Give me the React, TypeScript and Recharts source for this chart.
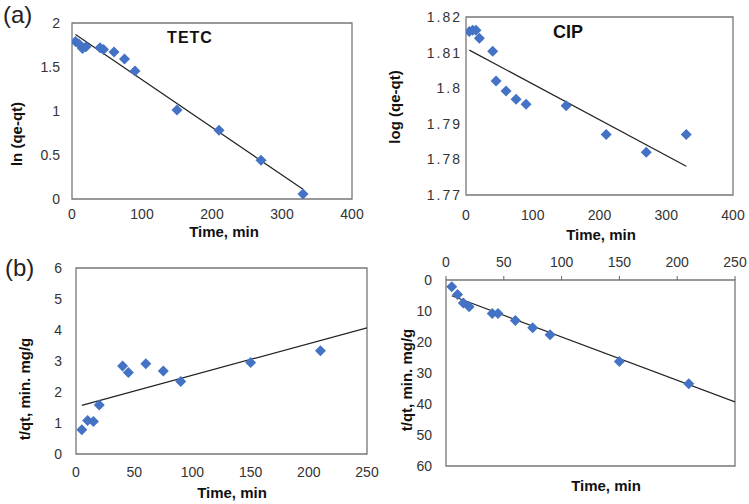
import React from 'react';
import { ScatterChart, Scatter, XAxis, YAxis, ReferenceArea } from 'recharts';

// ---- data ----
const timeA = [5, 10, 15, 20, 40, 45, 60, 75, 90, 150, 210, 270, 330];
const tetcLn = [1.79, 1.76, 1.71, 1.73, 1.72, 1.70, 1.67, 1.59, 1.455, 1.01, 0.78, 0.44, 0.057];
const cipLog = [1.8159, 1.8163, 1.8163, 1.814, 1.8104, 1.802, 1.7992, 1.7969, 1.7955, 1.7951, 1.787, 1.782, 1.787];
const tetcFitT = [5, 330];
const tetcFitV = [1.87, 0.11];
const cipFitT = [5, 330];
const cipFitV = [1.8107, 1.7781];

const timeB = [5, 10, 15, 20, 40, 45, 60, 75, 90, 150, 210];
const tetcTq = [0.78, 1.08, 1.05, 1.58, 2.84, 2.63, 2.91, 2.68, 2.34, 2.95, 3.33];
const cipTq = [2.2, 4.7, 7.4, 8.6, 10.8, 10.8, 13.1, 15.4, 17.7, 26.3, 33.5];
const tetcFitBT = [5, 250];
const tetcFitBV = [1.57, 4.07];
const cipFitBT = [5, 250];
const cipFitBV = [5.1, 39.3];

const xTicksA = [0, 100, 200, 300, 400];
const yTicksTetcA = [0, 0.5, 1, 1.5, 2];
const yTicksCipA = [1.77, 1.78, 1.79, 1.8, 1.81, 1.82];
const xTicksB = [0, 50, 100, 150, 200, 250];
const yTicksTetcB = [0, 1, 2, 3, 4, 5, 6];
const yTicksCipB = [0, 10, 20, 30, 40, 50, 60];

const zip = (ts: number[], vs: number[]) => ts.map((t, i) => ({ t, v: vs[i] }));

const FONT = '"Liberation Sans", Arial, sans-serif';
const W = 749;
const H = 504;

const Diamond = (props: any) => {
  const { cx, cy } = props;
  if (cx == null || cy == null) return <g />;
  const r = 5.5;
  return (
    <polygon
      points={`${cx},${cy - r} ${cx + r},${cy} ${cx},${cy + r} ${cx - r},${cy}`}
      fill="#4472C4"
    />
  );
};

const NoDot = () => <g />;

type PanelProps = {
  plot: { l: number; t: number; r: number; b: number };
  xDomain: [number, number];
  xTicks: number[];
  yDomain: [number, number];
  yTicks: number[];
  pts: { t: number; v: number }[];
  fit: { t: number; v: number }[];
  xTop?: boolean;
  yReversed?: boolean;
  xGap: number;
  yGap: number;
  yFmt?: (v: number) => string;
  yTickExtra?: any;
};

function Panel(p: PanelProps) {
  const axisH = 30;
  const axisW = 40;
  const margin = p.xTop
    ? { top: p.plot.t - axisH, bottom: H - p.plot.b, left: p.plot.l - axisW, right: W - p.plot.r }
    : { top: p.plot.t, bottom: H - p.plot.b - axisH, left: p.plot.l - axisW, right: W - p.plot.r };
  const tickStyle = { fontSize: 14, fill: '#333', fontFamily: FONT };
  return (
    <div style={{ position: 'absolute', left: 0, top: 0 }}>
      <ScatterChart width={W} height={H} margin={margin}>
        <XAxis
          dataKey="t"
          type="number"
          domain={p.xDomain}
          ticks={p.xTicks}
          interval={0}
          orientation={p.xTop ? 'top' : 'bottom'}
          height={axisH}
          axisLine={false}
          tickLine={p.xTop ? { stroke: '#666' } : false}
          tickSize={p.xTop ? 4 : 0}
          tickMargin={p.xTop ? p.xGap - 4 : p.xGap}
          tick={tickStyle}
          allowDataOverflow
        />
        <YAxis
          dataKey="v"
          type="number"
          domain={p.yDomain}
          ticks={p.yTicks}
          interval={0}
          reversed={p.yReversed}
          width={axisW}
          axisLine={false}
          tickLine={false}
          tickSize={0}
          tickMargin={p.yGap}
          tick={{ ...tickStyle, ...(p.yTickExtra || {}) }}
          tickFormatter={p.yFmt}
          allowDataOverflow
        />
        <ReferenceArea
          x1={p.xDomain[0]}
          x2={p.xDomain[1]}
          y1={p.yDomain[0]}
          y2={p.yDomain[1]}
          fill="none"
          fillOpacity={0}
          stroke="#777"
          strokeWidth={1.3}
        />
        <Scatter
          data={p.fit}
          line={{ stroke: '#222', strokeWidth: 1.2 }}
          shape={NoDot}
          isAnimationActive={false}
          legendType="none"
        />
        <Scatter data={p.pts} shape={Diamond} isAnimationActive={false} legendType="none" />
      </ScatterChart>
    </div>
  );
}

export default function App() {
  const titleStyle: React.CSSProperties = { fontFamily: FONT, fontWeight: 700, fontSize: 15, fill: '#111' };
  return (
    <div style={{ position: 'absolute', left: 0, top: 0, width: W, height: H, background: '#fff', overflow: 'hidden' }}>
      <Panel
        plot={{ l: 72, t: 23, r: 352, b: 199 }}
        xDomain={[0, 400]}
        xTicks={xTicksA}
        yDomain={[0, 2]}
        yTicks={yTicksTetcA}
        pts={zip(timeA, tetcLn)}
        fit={zip(tetcFitT, tetcFitV)}
        xGap={10}
        yGap={12}
      />
      <Panel
        plot={{ l: 466, t: 17, r: 733, b: 195 }}
        xDomain={[0, 400]}
        xTicks={xTicksA}
        yDomain={[1.77, 1.82]}
        yTicks={yTicksCipA}
        pts={zip(timeA, cipLog)}
        fit={zip(cipFitT, cipFitV)}
        xGap={15}
        yGap={4}
        yFmt={(v: number) => String(+v.toFixed(2))}
        yTickExtra={{ style: { letterSpacing: '2px' } }}
      />
      <Panel
        plot={{ l: 76, t: 268, r: 367, b: 454 }}
        xDomain={[0, 250]}
        xTicks={xTicksB}
        yDomain={[0, 6]}
        yTicks={yTicksTetcB}
        pts={zip(timeB, tetcTq)}
        fit={zip(tetcFitBT, tetcFitBV)}
        xGap={13}
        yGap={14}
      />
      <Panel
        plot={{ l: 446, t: 280, r: 735, b: 466 }}
        xDomain={[0, 250]}
        xTicks={xTicksB}
        yDomain={[0, 60]}
        yTicks={yTicksCipB}
        pts={zip(timeB, cipTq)}
        fit={zip(cipFitBT, cipFitBV)}
        xTop
        yReversed
        xGap={13}
        yGap={14}
      />
      <svg width={W} height={H} style={{ position: 'absolute', left: 0, top: 0, pointerEvents: 'none' }}>
        <text x={3} y={23} fontFamily={FONT} fontSize={24} fill="#222">(a)</text>
        <text x={5} y={276} fontFamily={FONT} fontSize={24} fill="#222">(b)</text>
        <text x={190} y={43} textAnchor="middle" fontFamily={FONT} fontWeight={700} fontSize={16} letterSpacing={1} fill="#111">TETC</text>
        <text x={568} y={38} textAnchor="middle" fontFamily={FONT} fontWeight={700} fontSize={18} fill="#111">CIP</text>
        <text transform="translate(22,134) rotate(-90)" textAnchor="middle" style={titleStyle}>ln (qe-qt)</text>
        <text transform="translate(400,107) rotate(-90)" textAnchor="middle" style={titleStyle}>log (qe-qt)</text>
        <text transform="translate(30,389) rotate(-90)" textAnchor="middle" style={titleStyle}>t/qt, min. mg/g</text>
        <text transform="translate(412,380) rotate(-90)" textAnchor="middle" style={titleStyle}>t/qt, min. mg/g</text>
        <text x={224} y={237} textAnchor="middle" style={titleStyle}>Time, min</text>
        <text x={601} y={240} textAnchor="middle" style={titleStyle}>Time, min</text>
        <text x={232} y={498} textAnchor="middle" style={titleStyle}>Time, min</text>
        <text x={606} y={491} textAnchor="middle" style={titleStyle}>Time, min</text>
      </svg>
    </div>
  );
}
